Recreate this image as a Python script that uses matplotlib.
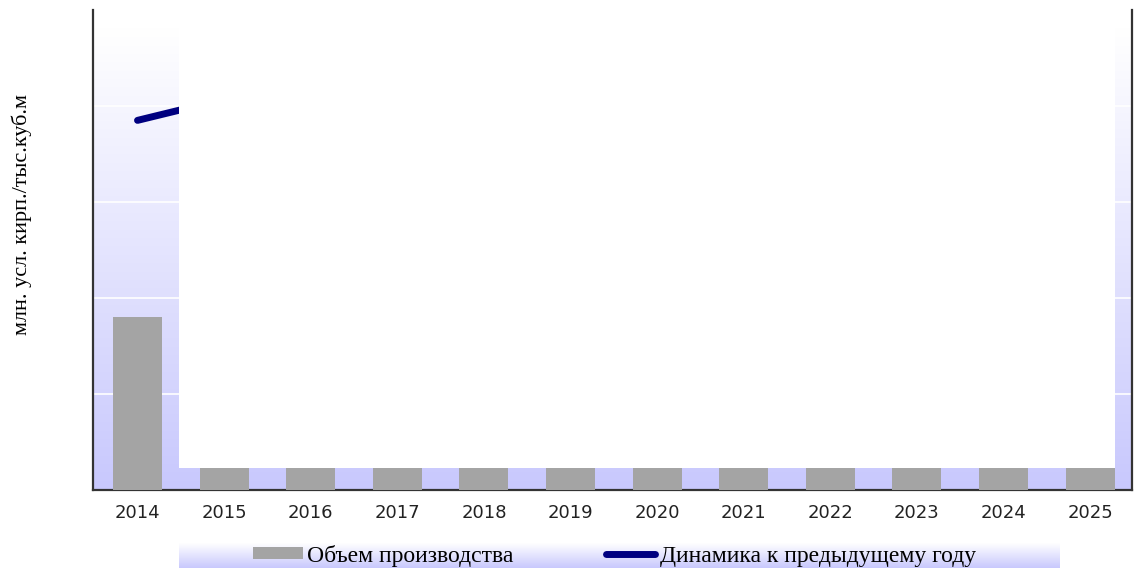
"""
plot.py
Production volume by year with the year-on-year dynamics line.
"""

import numpy as np
import matplotlib
matplotlib.use("Agg")
import matplotlib.pyplot as plt
from matplotlib.colors import LinearSegmentedColormap
from matplotlib.patches import Rectangle, Patch
from matplotlib.lines import Line2D

years    = [2014, 2015, 2016, 2017, 2018, 2019, 2020, 2021, 2022, 2023, 2024, 2025]
volume   = [1.80, 0.23, 0.23, 0.23, 0.23, 0.23, 0.23, 0.23, 0.23, 0.23, 0.23, 0.23]
dyn_years = [2014, 2015]
dynamics  = [3.85, 4.07]

y_label    = "млн. усл. кирп./тыс.куб.м"
lbl_volume = "Объем производства"
lbl_dyn    = "Динамика к предыдущему году"

BAR_COL  = "#a4a4a4"
LINE_COL = "#000080"
LAVENDER = "#c8c8fd"


def _gradient(ax, extent, zorder=0):
    """Vertical white -> lavender fill over the given extent."""
    cmap = LinearSegmentedColormap.from_list("wl", ["#ffffff", LAVENDER])
    grad = np.linspace(0, 1, 256).reshape(-1, 1)
    ax.imshow(grad, cmap=cmap, aspect="auto", extent=extent,
              origin="upper", zorder=zorder, interpolation="bicubic")


def main():
    fig = plt.figure(figsize=(11.34, 5.70), dpi=100)
    ax = fig.add_axes([0.082, 0.1404, 0.916, 0.8421])

    x = np.arange(len(years))
    width = 0.566
    xlo, xhi = -0.514, 11.48
    ytop = 5.0

    _gradient(ax, [xlo, xhi, 0, 4.81])
    for g in range(1, 5):
        ax.axhline(g, color="white", lw=1.2, zorder=1)

    # dynamics line (only the first segment survives in the original render)
    xd = [years.index(y) for y in dyn_years]
    ax.plot(xd, dynamics, color=LINE_COL, lw=5, solid_capstyle="round", zorder=2)

    # blank panel the source renderer left over the plot area
    ax.add_patch(Rectangle((0.48, volume[1]), 11 + width / 2 - 0.48,
                           ytop - volume[1], facecolor="white",
                           edgecolor="none", zorder=3))

    ax.bar(x, volume, width=width, color=BAR_COL, zorder=4)

    ax.set_xlim(xlo, xhi)
    ax.set_ylim(0, ytop)
    ax.set_xticks(x)
    ax.set_xticklabels([str(y) for y in years], fontsize=13, color="#222222")
    ax.tick_params(axis="x", length=0, pad=10)
    ax.set_yticks([])
    for side in ("left", "bottom", "right"):
        ax.spines[side].set_color("#333333")
        ax.spines[side].set_linewidth(1.6)
    ax.spines["top"].set_visible(False)

    fig.text(0.019, 0.623, y_label, rotation=90, ha="center", va="center",
             family="Liberation Serif", fontsize=16)

    # legend strip
    lax = fig.add_axes([179 / 1134, 1 - 568 / 570, (1060 - 179) / 1134, 25 / 570])
    _gradient(lax, [0, 1, 0, 1])
    lax.set_xlim(0, 1)
    lax.set_ylim(0, 1)
    lax.axis("off")

    handles = [Patch(facecolor=BAR_COL, edgecolor="none"),
               Line2D([], [], color=LINE_COL, lw=5, solid_capstyle="round")]
    fig.legend(handles, [lbl_volume, lbl_dyn], loc="center left",
               bbox_to_anchor=(253 / 1134, 0.0254), ncol=2, frameon=False,
               borderpad=0, borderaxespad=0,
               prop={"family": "Liberation Serif", "size": 17},
               handlelength=2.1, handleheight=0.35, handletextpad=0.2,
               columnspacing=3.9)

    fig.savefig("out.png", dpi=100)


if __name__ == "__main__":
    main()
